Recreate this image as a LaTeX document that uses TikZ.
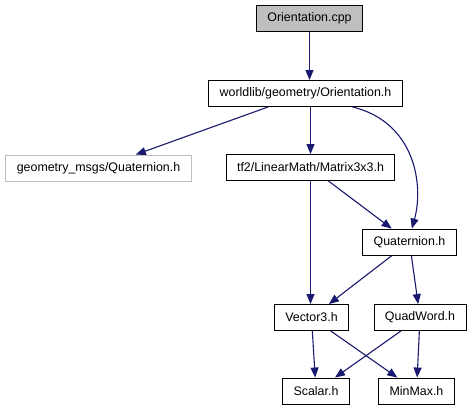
\documentclass[tikz,border=0pt]{standalone}
\usepackage{fontspec}
\setmainfont{Liberation Sans}
\usepackage{tikz}
\usetikzlibrary{arrows.meta,positioning}
\definecolor{inclblue}{HTML}{191970}
\definecolor{sysgray}{HTML}{BFBFBF}
\tikzset{
  file/.style={draw=black, fill=white, line width=0.9pt, minimum height=26pt,
    inner xsep=11pt, inner ysep=2pt, font=\fontsize{12.4}{14}\selectfont},
  incl/.style={draw=inclblue, line width=1.1pt, -{Triangle[length=10pt,width=8pt]}},
}

\begin{document}
\begin{tikzpicture}[x=1pt, y=-1pt]
\useasboundingbox (0,0) rectangle (473,411);
% Source file (top, grey fill)
\node[file, fill=sysgray] (cpp) at (309.5,18.5) {Orientation.cpp};
% First level header
\node[file] (orient) at (305.5,93.5) {worldlib/geometry/Orientation.h};
% Second level (external header has a grey frame)
\node[file, draw=sysgray] (geom) at (98.5,168) {geometry\_msgs/Quaternion.h};
\node[file] (matrix) at (310.5,167.5) {tf2/LinearMath/Matrix3x3.h};
\node[file] (quat) at (409.5,242) {Quaternion.h};
% Lower headers
\node[file] (vec) at (311.5,317.5) {Vector3.h};
\node[file] (quad) at (420,317.5) {QuadWord.h};
\node[file] (scalar) at (316,391) {Scalar.h};
\node[file] (minmax) at (416.5,391) {MinMax.h};
% Straight down includes
\draw[incl] (cpp) -- (cpp |- orient.north);
\draw[incl] (matrix |- orient.south) -- (matrix);
\draw[incl] (matrix) -- (matrix |- vec.north);
% Bent include, Orientation.h to Quaternion.h
\draw[incl] (orient.-16) .. controls (415,122) and (424,185) .. (quat.80);
% Remaining includes
\foreach \from/\to in {orient/geom, matrix/quat, quat/vec, quat/quad,
  vec/scalar, vec/minmax, quad/scalar, quad/minmax}{
  \draw[incl] (\from) -- (\to);
}
\end{tikzpicture}
\end{document}
